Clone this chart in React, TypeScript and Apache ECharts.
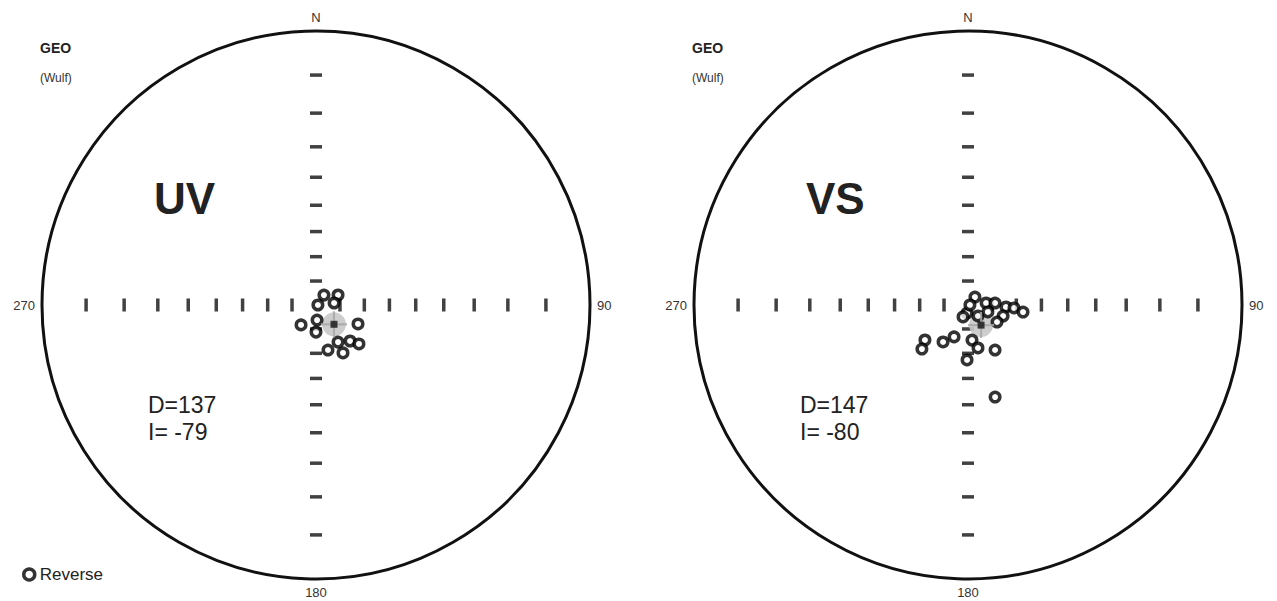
import React, { useEffect, useRef } from "react";
import * as echarts from "echarts";

// Site-mean directions of individual specimens (declination, inclination), reverse polarity (upper hemisphere)
const uvDec = [38.7, 65.6, 90, 83.7, 216.9, 180, 114.3, 165.1, 150.6, 136.6, 132.2, 149.3, 176];
const uvInc = [-84.7, -79.9, -89.2, -82.4, -79.6, -78.7, -70.9, -70.7, -67.3, -69.5, -66.1, -72.1, -83.7];

const vsDec = [41.2, 83.7, 85.8, 93, 93.7, 97.3, 107.4, 187, 90, 137.7, 120.4, 230.9, 226.3, 214, 203.6, 173.5, 166.9, 149, 181, 163.6, 109.3, 202.6];
const vsInc = [-85.6, -82.4, -78.7, -74.2, -70.9, -67.1, -74.7, -86.6, -89.2, -83.8, -76.0, -67.1, -63.8, -71.5, -75.5, -75.3, -71.7, -68.3, -67.3, -51.4, -81.2, -84.6];

// Mean directions
const siteNames = ["UV", "VS"];
const meanDec = [137, 147];
const meanInc = [-79, -80];

// Net tick inclinations (degrees) along the N-S and E-W axes
const netInclinations = [10, 20, 30, 40, 50, 60, 70, 80];
const compassAngles = [0, 90, 180, 270];

const FONT = "'Liberation Sans', Arial, sans-serif";
const centersX = [316, 968];
const centerY = 305;
const R = 274;

// Wulff (stereographic) projection of inclination to net radius (0..1)
const wulff = (inc: number) => Math.tan(((90 - Math.abs(inc)) / 2) * (Math.PI / 180));

export default function App() {
  const ref = useRef<HTMLDivElement>(null);
  useEffect(() => {
    if (!ref.current) return;
    const chart = echarts.init(ref.current, null, { renderer: "svg" });
    const decs = [uvDec, vsDec];
    const incs = [uvInc, vsInc];
    const series: any[] = [];
    [0, 1].forEach((p) => {
      series.push({
        type: "scatter",
        coordinateSystem: "polar",
        polarIndex: p,
        symbol: "rect",
        symbolSize: [12, 3.5],
        itemStyle: { color: "#111" },
        silent: true,
        data: [0, 180].flatMap((a) => netInclinations.map((i) => [wulff(i), a])),
        z: 2,
      });
      series.push({
        type: "scatter",
        coordinateSystem: "polar",
        polarIndex: p,
        symbol: "rect",
        symbolSize: [3.5, 13],
        itemStyle: { color: "#111" },
        silent: true,
        data: [90, 270].flatMap((a) => netInclinations.map((i) => [wulff(i), a])),
        z: 2,
      });
      // alpha95 gray disc
      series.push({
        type: "scatter",
        coordinateSystem: "polar",
        polarIndex: p,
        symbol: "circle",
        symbolSize: 24,
        itemStyle: { color: "#c8c8c8", opacity: 0.9 },
        silent: true,
        data: [[wulff(meanInc[p]), meanDec[p]]],
        z: 3,
      });
      series.push({
        name: "Reverse",
        type: "scatter",
        coordinateSystem: "polar",
        polarIndex: p,
        symbol: "circle",
        symbolSize: 9.5,
        itemStyle: { color: "#ffffff", borderColor: "#000", borderWidth: 3.5 },
        data: decs[p].map((d, k) => [wulff(incs[p][k]), d]),
        z: 4,
      });
      series.push({
        type: "scatter",
        coordinateSystem: "polar",
        polarIndex: p,
        symbol: "path://M-1,-12 h2 v24 h-2z M-12,-1 h24 v2 h-24z",
        symbolSize: 26,
        itemStyle: { color: "#a8a8a8", opacity: 0.85 },
        silent: true,
        data: [[wulff(meanInc[p]), meanDec[p]]],
        z: 5,
      });
      series.push({
        type: "scatter",
        coordinateSystem: "polar",
        polarIndex: p,
        symbol: "rect",
        symbolSize: 7,
        itemStyle: { color: "#111" },
        silent: true,
        data: [[wulff(meanInc[p]), meanDec[p]]],
        z: 6,
      });
    });

    const graphic: any[] = [];
    [0, 1].forEach((p) => {
      const ox = p === 0 ? 0 : 652;
      graphic.push(
        { type: "text", x: 40 + ox, y: 41, style: { text: "GEO", font: `bold 14px ${FONT}`, fill: "#222" } },
        { type: "text", x: 40 + ox, y: 72, style: { text: "(Wulf)", font: `12px ${FONT}`, fill: "#333" } },
        { type: "text", x: 154 + ox, y: 176, style: { text: siteNames[p], font: `bold 44px ${FONT}`, fill: "#222" } },
        { type: "text", x: 148 + ox, y: 393, style: { text: `D=${meanDec[p]}`, font: `23px ${FONT}`, fill: "#222" } },
        { type: "text", x: 148 + ox, y: 420, style: { text: `I= ${meanInc[p]}`, font: `23px ${FONT}`, fill: "#222" } }
      );
    });

    chart.setOption({
      animation: false,
      backgroundColor: "#ffffff",
      polar: centersX.map((cx) => ({ center: [cx, centerY], radius: R })),
      angleAxis: [0, 1].map((p) => ({
        polarIndex: p,
        type: "value",
        min: 0,
        max: 360,
        interval: 90,
        startAngle: 90,
        clockwise: true,
        axisLine: { show: true, lineStyle: { color: "#111", width: 3 } },
        axisTick: { show: false },
        splitLine: { show: false },
        axisLabel: {
          show: true,
          margin: 7,
          color: "#333",
          fontSize: 13,
          fontFamily: FONT,
          formatter: (v: number) => (v === 0 ? "N" : v === 360 ? "" : compassAngles.includes(v) ? String(v) : ""),
        },
      })),
      radiusAxis: [0, 1].map((p) => ({
        polarIndex: p,
        type: "value",
        min: 0,
        max: 1,
        axisLine: { show: false },
        axisTick: { show: false },
        axisLabel: { show: false },
        splitLine: { show: false },
      })),
      legend: {
        data: ["Reverse"],
        left: 17,
        top: 561,
        itemWidth: 11,
        itemHeight: 11,
        itemGap: 6,
        itemStyle: { color: "#fff", borderColor: "#000", borderWidth: 3.5 },
        textStyle: { fontSize: 17, color: "#222", fontFamily: FONT },
      },
      graphic,
      series,
    });
    return () => chart.dispose();
  }, []);
  return <div ref={ref} style={{ position: "fixed", left: 0, top: 0, width: 1277, height: 601 }} />;
}
